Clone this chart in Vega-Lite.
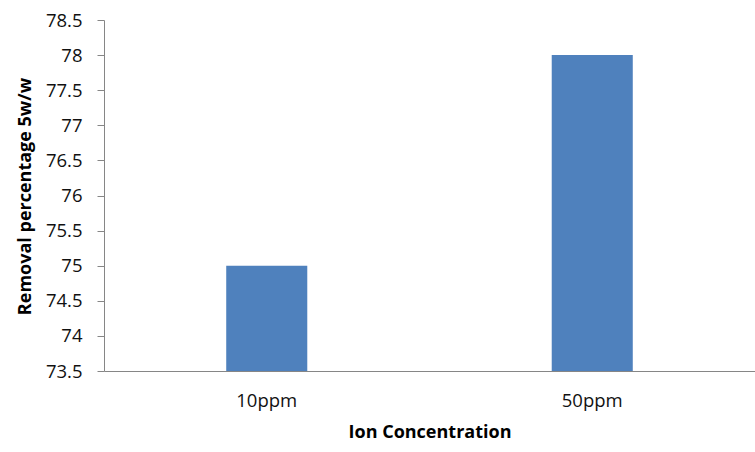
{
  "$schema": "https://vega.github.io/schema/vega-lite/v6.json",
  "autosize": "none",
  "width": 651,
  "height": 351,
  "padding": {"left": 104, "top": 20, "right": 0, "bottom": 81},
  "background": "white",
  "data": {"values": [
    {"conc": "10ppm", "removal": 75},
    {"conc": "50ppm", "removal": 78}
  ]},
  "mark": {"type": "bar", "color": "#4F81BD", "clip": true},
  "encoding": {
    "x": {
      "field": "conc", "type": "nominal", "sort": null,
      "scale": {"paddingInner": 0.751, "paddingOuter": 0.3755},
      "axis": {
        "title": "Ion Concentration",
        "labelAngle": 0, "ticks": false, "tickSize": 0,
        "domainColor": "#868686", "domainWidth": 1,
        "labelFont": "Open Sans", "labelFontSize": 18.5, "labelColor": "#111111",
        "labelBaseline": "middle", "labelPadding": 29,
        "titleFont": "Open Sans", "titleFontSize": 18, "titleFontWeight": "bold", "titleColor": "#000000",
        "titleBaseline": "middle", "titleY": 61, "titleAnchor": "middle"
      }
    },
    "y": {
      "field": "removal", "type": "quantitative",
      "scale": {"domain": [73.5, 78.5], "zero": false, "nice": false},
      "axis": {
        "title": "Removal percentage 5w/w",
        "values": [73.5, 74, 74.5, 75, 75.5, 76, 76.5, 77, 77.5, 78, 78.5],
        "format": "~g",
        "grid": false,
        "domainColor": "#868686", "tickColor": "#868686", "tickSize": 7,
        "labelFont": "Open Sans", "labelFontSize": 18.5, "labelColor": "#111111",
        "labelPadding": 15, "labelBaseline": "middle",
        "titleFont": "Open Sans", "titleFontSize": 18, "titleFontWeight": "bold", "titleColor": "#000000",
        "titleAngle": -90, "titleX": -79, "titleY": 176, "titleAlign": "center", "titleBaseline": "middle"
      }
    },
    "y2": {"datum": 73.5}
  },
  "config": {"view": {"stroke": null}}
}
